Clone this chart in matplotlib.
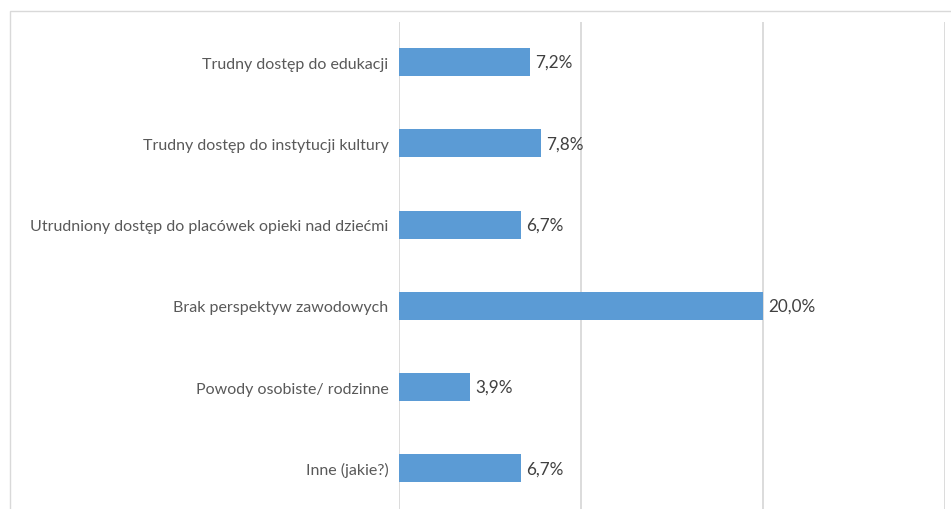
import matplotlib
matplotlib.use("Agg")
import matplotlib.pyplot as plt
from matplotlib.patches import Rectangle

categories = [
    "Trudny dostęp do edukacji",
    "Trudny dostęp do instytucji kultury",
    "Utrudniony dostęp do placówek opieki nad dziećmi",
    "Brak perspektyw zawodowych",
    "Powody osobiste/ rodzinne",
    "Inne (jakie?)",
]
values = [7.2, 7.8, 6.7, 20.0, 3.9, 6.7]
labels = ["7,2%", "7,8%", "6,7%", "20,0%", "3,9%", "6,7%"]
xticks = [0, 10, 20, 30]

plt.rcParams['font.family'] = ['Lato', 'DejaVu Sans']

fig = plt.figure(figsize=(9.51, 5.10), dpi=100)
fig.patches.append(Rectangle((10 / 951, -0.1), 1.2, 1 - 12 / 510 + 0.1,
                             transform=fig.transFigure, fill=False,
                             edgecolor='#d9d9d9', linewidth=1.0))
ax = fig.add_axes([399 / 951, 0, 546 / 951, 1 - 22.5 / 510])

y = list(range(len(categories)))
ax.barh(y, values, height=0.345, color='#5B9BD5', zorder=3)
ax.set_ylim(len(categories) - 0.5, -0.5)
ax.set_xlim(0, 30)
ax.set_xticks(xticks)
ax.grid(axis='x', color='#d9d9d9', linewidth=1.3, zorder=0)
ax.tick_params(axis='x', bottom=False, labelbottom=False)
ax.tick_params(axis='y', left=False, pad=4, labelsize=11.5, labelcolor='#595959')
ax.set_yticks(y)
ax.set_yticklabels(categories)
for s in ax.spines.values():
    s.set_visible(False)
ax.patch.set_alpha(0)

for yi, v, t in zip(y, values, labels):
    ax.annotate(t, (v, yi), xytext=(3.5, 0), textcoords='offset points',
                va='center', ha='left', fontsize=12.3, color='#404040')

fig.savefig("out.png", dpi=100)
